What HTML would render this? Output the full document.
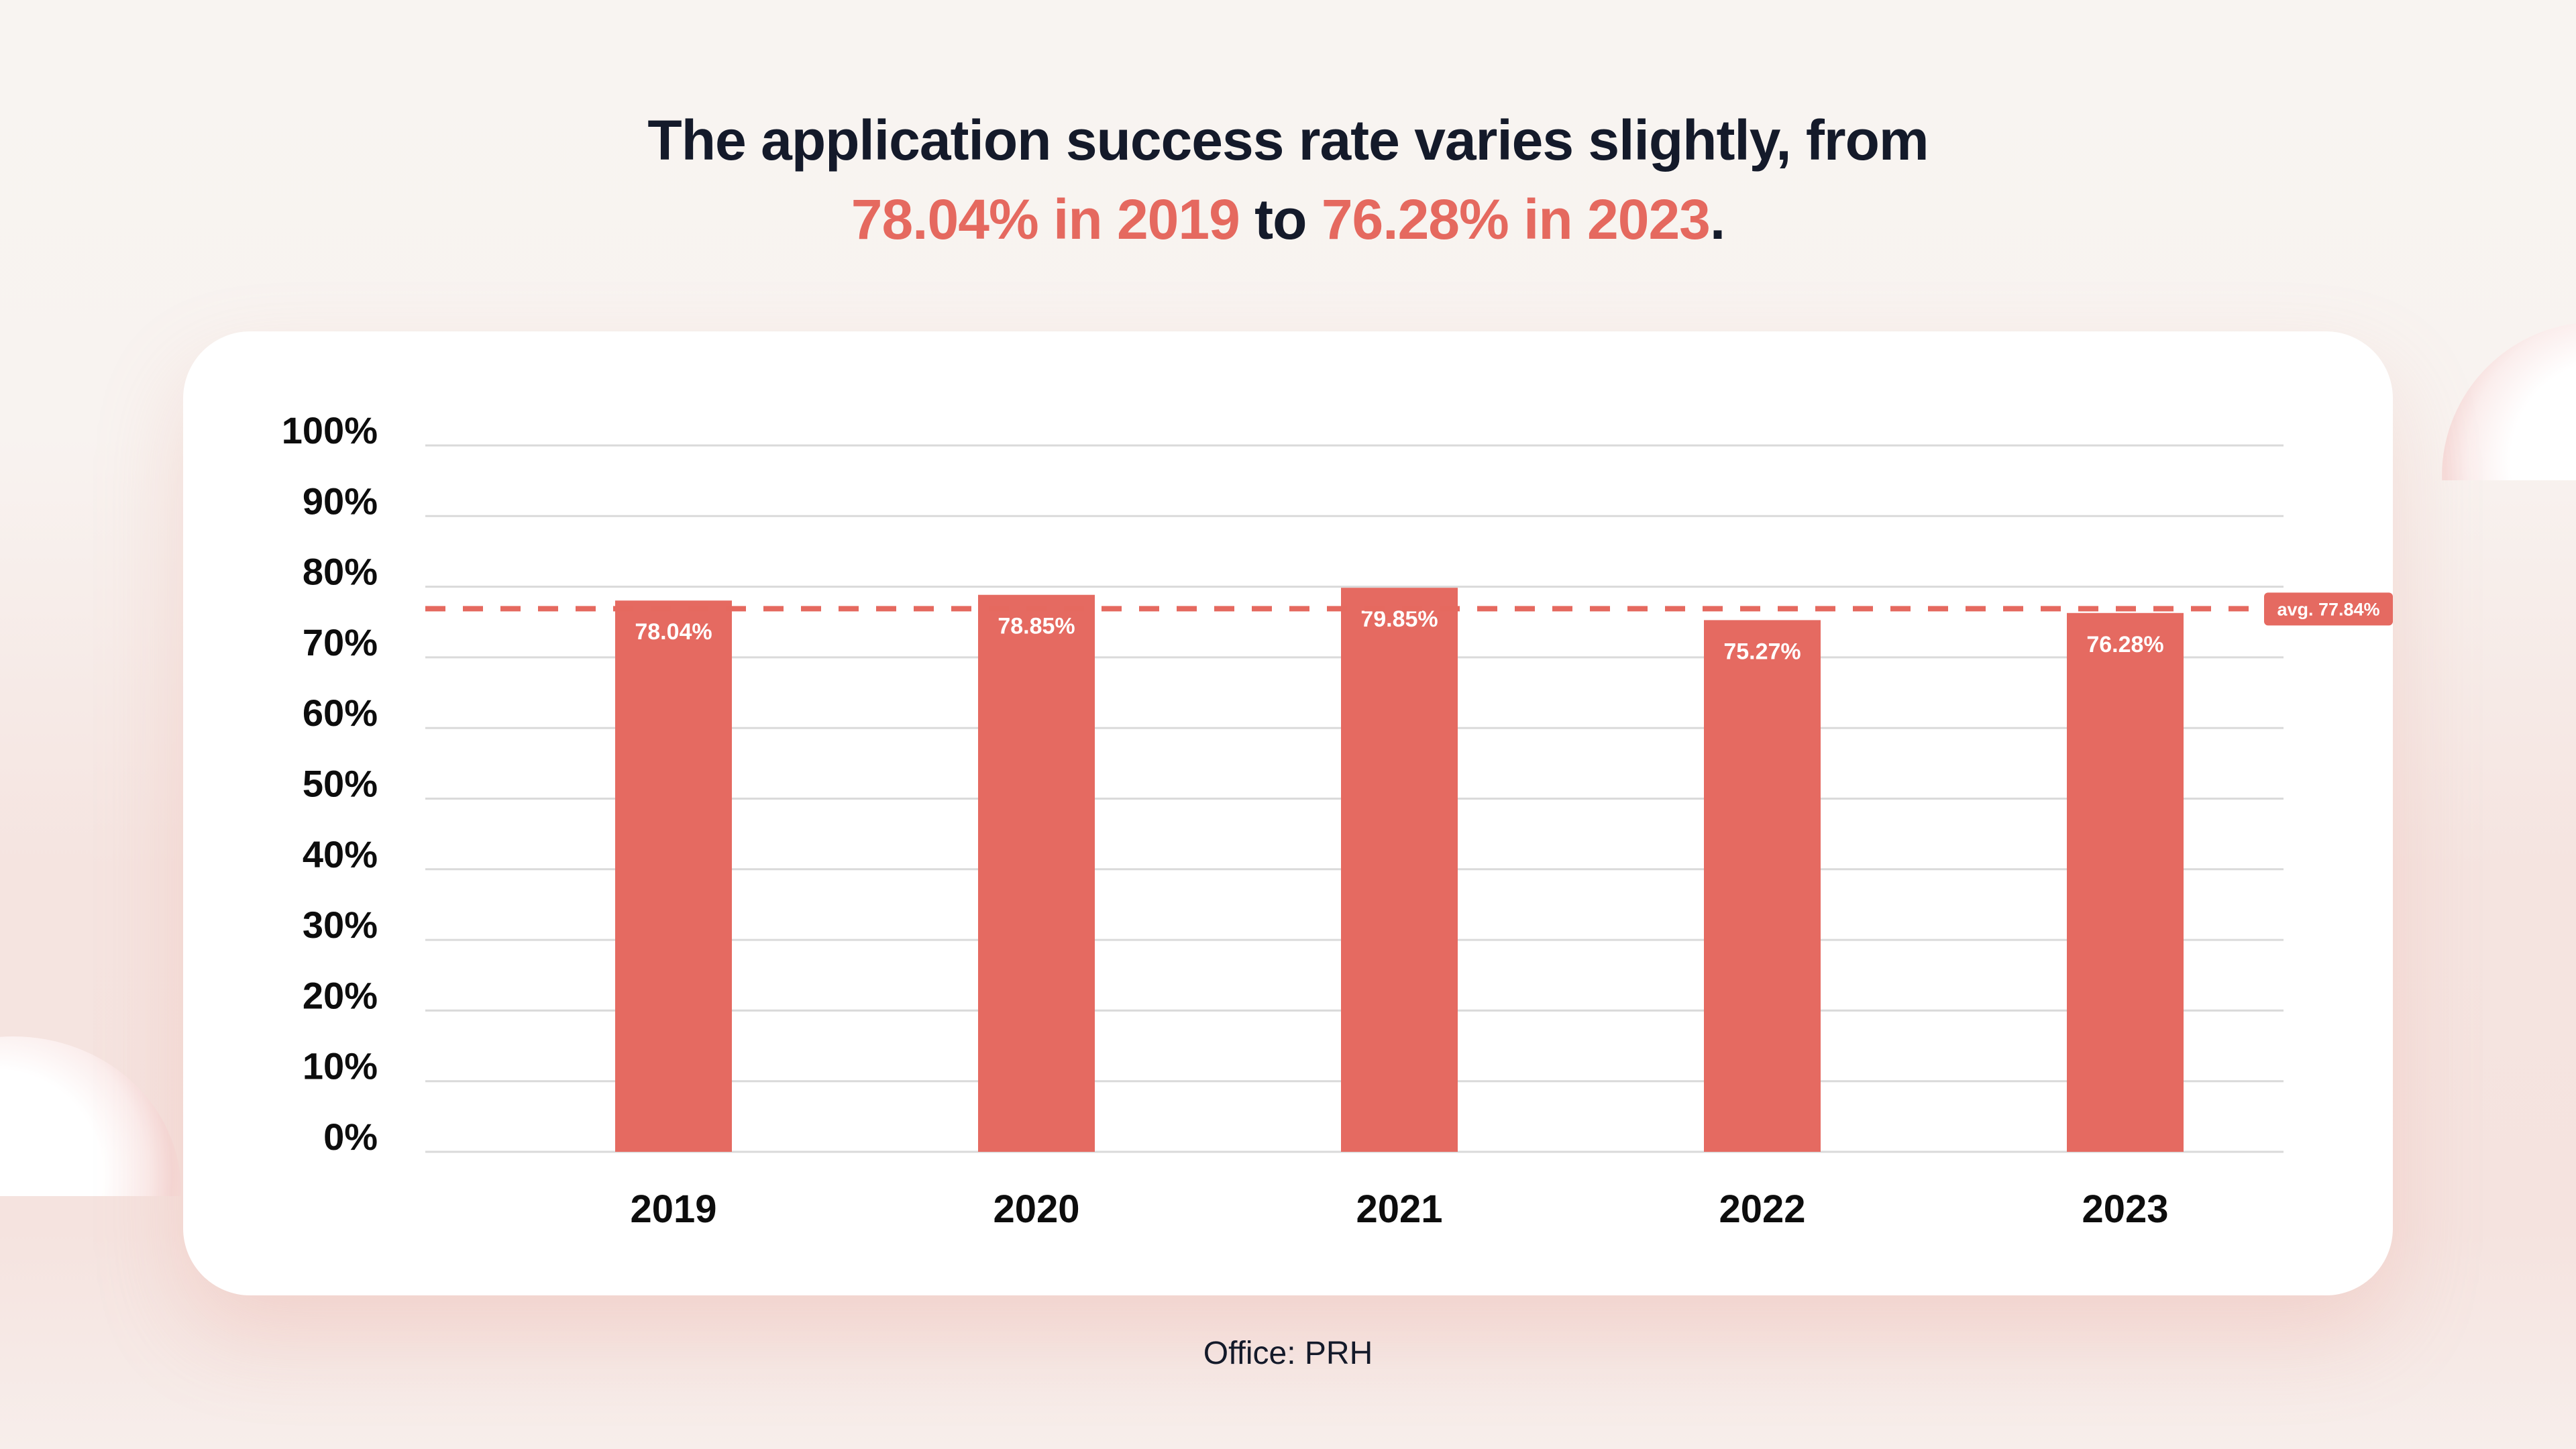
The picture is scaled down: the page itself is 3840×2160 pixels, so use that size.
<!DOCTYPE html>
<html><head><meta charset="utf-8">
<style>
html,body{margin:0;padding:0}
body{width:3840px;height:2160px;overflow:hidden;position:relative;font-family:"Liberation Sans",sans-serif;
background:linear-gradient(180deg,#f8f4f1 0%,#f8f3f0 30%,#f5e4e0 60%,#f5e3df 85%,#f7eeeb 100%);}
.clip{position:absolute;overflow:hidden}
.blob{position:absolute;border-radius:50%;}
#title{position:absolute;left:0;width:3840px;top:150px;text-align:center;font-size:84px;font-weight:bold;color:#141a2a;line-height:118px;letter-spacing:-1px}
.hl{color:#e5695f}
#card{position:absolute;left:273px;top:494px;width:3294px;height:1437px;background:#fff;border-radius:100px;box-shadow:0 60px 160px rgba(230,150,140,0.25)}
#footer{position:absolute;left:0;width:3840px;top:1990px;text-align:center;font-size:48px;color:#141a2a}
svg{position:absolute;left:0;top:0}
</style></head><body>
<div class="clip" style="left:3600px;top:470px;width:240px;height:246px">
  <div class="blob" style="left:40px;top:10px;width:460px;height:460px;background:radial-gradient(circle at 55% 45%,#fff 42%,#fbeeed 60%,#f6dcda 70%,rgba(246,220,218,0) 76%)"></div>
</div>
<div class="clip" style="left:0;top:1530px;width:300px;height:253px">
  <div class="blob" style="left:-230px;top:15px;width:500px;height:460px;background:radial-gradient(circle at 45% 45%,#fff 42%,#fbeeed 60%,#f6dcda 70%,rgba(246,220,218,0) 76%)"></div>
</div>
<div id="title">The application success rate varies slightly, from<br><span class="hl">78.04% in 2019</span> to <span class="hl">76.28% in 2023</span>.</div>
<div id="card"></div>
<svg id="chart" width="3840" height="2160"></svg>
<div id="footer">Office: PRH</div>
<script>
const categories=["2019","2020","2021","2022","2023"];
const values=[78.04,78.85,79.85,75.27,76.28];
const valueLabels=["78.04%","78.85%","79.85%","75.27%","76.28%"];
const yTicks=[0,10,20,30,40,50,60,70,80,90,100];
const avgValue=77.84;
const avgLabel="avg. 77.84%";

const NS="http://www.w3.org/2000/svg";
const svg=document.getElementById('chart');
const y0=1717,y100=664,xL=634,xR=3404;
const yScale=v=>y0-(v/100)*(y0-y100);
const xCenter=i=>1004+i*541;
const barW=174;
function mk(t,a){const e=document.createElementNS(NS,t);for(const k in a)e.setAttribute(k,a[k]);svg.appendChild(e);return e;}
yTicks.forEach(t=>{
  const l=mk('line',{x1:xL,x2:xR,y1:yScale(t),y2:yScale(t),stroke:'#dadada','stroke-width':3});
  
  
  const tx=mk('text',{x:563,y:yScale(t)-3,'text-anchor':'end','font-size':56,'font-weight':'bold',fill:'#0d0d0d','font-family':'Liberation Sans, sans-serif'});
  tx.textContent=t+'%';
  
  
});
values.forEach((v,i)=>{
  const cx=xCenter(i);
  const r=mk('rect',{x:cx-barW/2,y:yScale(v),width:barW,height:y0-yScale(v),fill:'#e56a61'});
  
  
  const vl=mk('text',{x:cx,y:yScale(v)+58,'text-anchor':'middle','font-size':34,'font-weight':'bold',fill:'#fff','font-family':'Liberation Sans, sans-serif'});
  vl.textContent=valueLabels[i];
  
  
  const xl=mk('text',{x:cx,y:1822,'text-anchor':'middle','font-size':58,'font-weight':'bold',fill:'#0d0d0d','font-family':'Liberation Sans, sans-serif'});
  xl.textContent=categories[i];
  
  
});
const ay=yScale(avgValue)+10;
const al=mk('line',{x1:xL,x2:3365,y1:ay,y2:ay,stroke:'#e5695f','stroke-width':8,'stroke-dasharray':'30 26'});


const ab=mk('rect',{x:3375,y:ay-24,width:192,height:49,rx:6,fill:'#e56a61'});


const at=mk('text',{x:3471,y:ay+10,'text-anchor':'middle','font-size':27,'font-weight':'bold',fill:'#fff','font-family':'Liberation Sans, sans-serif'});
at.textContent=avgLabel;


</script>
</body></html>
